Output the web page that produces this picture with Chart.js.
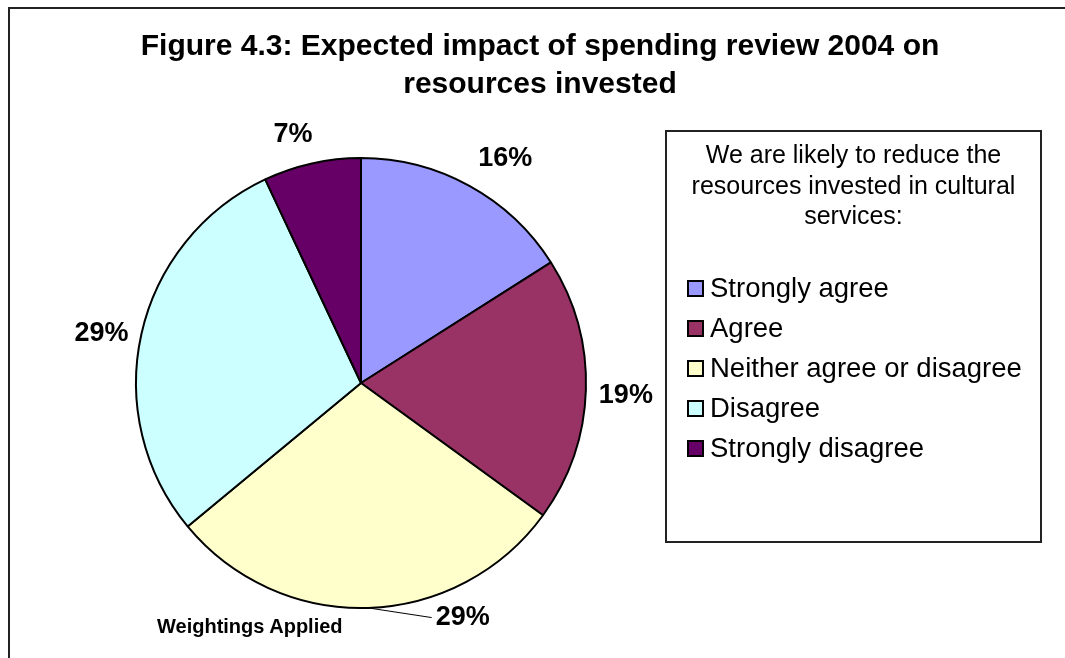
<!DOCTYPE html>
<html>
<head>
<meta charset="utf-8">
<title>Figure 4.3</title>
<script src="https://cdn.jsdelivr.net/npm/chart.js@4.4.1/dist/chart.umd.min.js"></script>
<style>
    html, body { margin: 0; padding: 0; background: #fff; }
    body { width: 1065px; height: 658px; position: relative; overflow: hidden;
           font-family: "Liberation Sans", Arial, sans-serif; color: #000; }
    #frame { position: absolute; left: 8px; top: 7px; right: 0; bottom: -10px;
             border-top: 2px solid #222; border-left: 2px solid #222; }
    #pieChart { position: absolute; left: 0; top: 0; }
    #title { position: absolute; left: 40px; top: 26px; width: 1000px; text-align: center;
             font-weight: bold; font-size: 30px; line-height: 38px; }
    #legendBox { position: absolute; left: 665px; top: 130px; width: 377px; height: 413px;
                 box-sizing: border-box; border: 2px solid #222; }
    #legendTitle { position: absolute; left: 0; top: 7px; width: 100%; text-align: center;
                   font-size: 25px; line-height: 30.5px; }
    #legendItems { position: absolute; left: 20px; top: 136px; margin: 0; padding: 0; list-style: none;
                   font-size: 27.5px; line-height: 40px; white-space: nowrap; }
    #legendItems .swatch { display: inline-block; width: 17px; height: 17px; box-sizing: border-box;
                           border: 2px solid #000; margin-right: 6px; vertical-align: baseline; }
    #note { position: absolute; left: 157px; top: 616px; font-weight: bold; font-size: 20px; line-height: 20px; }
</style>
</head>
<body>
<div id="frame"></div>
<canvas id="pieChart" width="1065" height="658"></canvas>
<div id="title">Figure 4.3: Expected impact of spending review 2004 on<br>resources invested</div>
<div id="legendBox">
    <div id="legendTitle">We are likely to reduce the<br>resources invested in cultural<br>services:</div>
    <ul id="legendItems"></ul>
</div>
<div id="note">Weightings Applied</div>

<script>
// Survey responses (percent of authorities)
const responses = ['Strongly agree', 'Agree', 'Neither agree or disagree', 'Disagree', 'Strongly disagree'];
const shares = [16, 19, 29, 29, 7];
const sliceColors = ['#9999FF', '#993366', '#FFFFCC', '#CCFFFF', '#660066'];

// Percent labels outside each slice, with an optional per-slice nudge and leader line
const outsideLabels = {
    id: 'outsideLabels',
    afterDatasetsDraw(chart, args, opts) {
        const ctx = chart.ctx;
        const meta = chart.getDatasetMeta(0);
        const values = chart.data.datasets[0].data;
        ctx.save();
        ctx.font = 'bold 27px "Liberation Sans", Arial, sans-serif';
        ctx.fillStyle = '#000';
        ctx.textAlign = 'center';
        ctx.textBaseline = 'middle';
        meta.data.forEach((arc, i) => {
            const p = arc.getProps(['x', 'y', 'startAngle', 'endAngle', 'outerRadius'], true);
            const mid = (p.startAngle + p.endAngle) / 2;
            const nudge = opts.nudge[i] || { angle: 0, dist: 0 };
            const a = mid + nudge.angle * Math.PI / 180;
            const d = p.outerRadius + opts.offset + nudge.dist;
            const lx = p.x + Math.cos(a) * d;
            const ly = p.y + Math.sin(a) * d + opts.dy;
            const text = values[i] + '%';
            if (nudge.leader) {
                const w = ctx.measureText(text).width;
                ctx.beginPath();
                ctx.strokeStyle = '#000';
                ctx.lineWidth = 1;
                ctx.moveTo(p.x + Math.cos(mid) * p.outerRadius, p.y + Math.sin(mid) * p.outerRadius);
                ctx.lineTo(lx - w / 2 - 4, ly);
                ctx.stroke();
            }
            ctx.fillText(text, lx, ly);
        });
        ctx.restore();
    }
};

new Chart(document.getElementById('pieChart'), {
    type: 'pie',
    data: {
        labels: responses,
        datasets: [{
            data: shares,
            backgroundColor: sliceColors,
            borderColor: '#000',
            borderWidth: 2
        }]
    },
    options: {
        responsive: false,
        animation: false,
        layout: { padding: { left: 135, right: 478, top: 157, bottom: 49 } },
        plugins: {
            legend: { display: false },
            title: { display: false },
            tooltip: { enabled: false },
            outsideLabels: {
                offset: 40,
                dy: 4,
                nudge: {
                    0: { angle: 3.5, dist: 5 },
                    2: { angle: -22, dist: -13, leader: true },
                    3: { angle: -1, dist: 0 },
                    4: { angle: -2.5, dist: -4 }
                }
            }
        }
    },
    plugins: [outsideLabels]
});

// Legend list built from the same series
const list = document.getElementById('legendItems');
responses.forEach((name, i) => {
    const li = document.createElement('li');
    const sw = document.createElement('span');
    sw.className = 'swatch';
    sw.style.background = sliceColors[i];
    li.appendChild(sw);
    li.appendChild(document.createTextNode(name));
    list.appendChild(li);
});
</script>
</body>
</html>
